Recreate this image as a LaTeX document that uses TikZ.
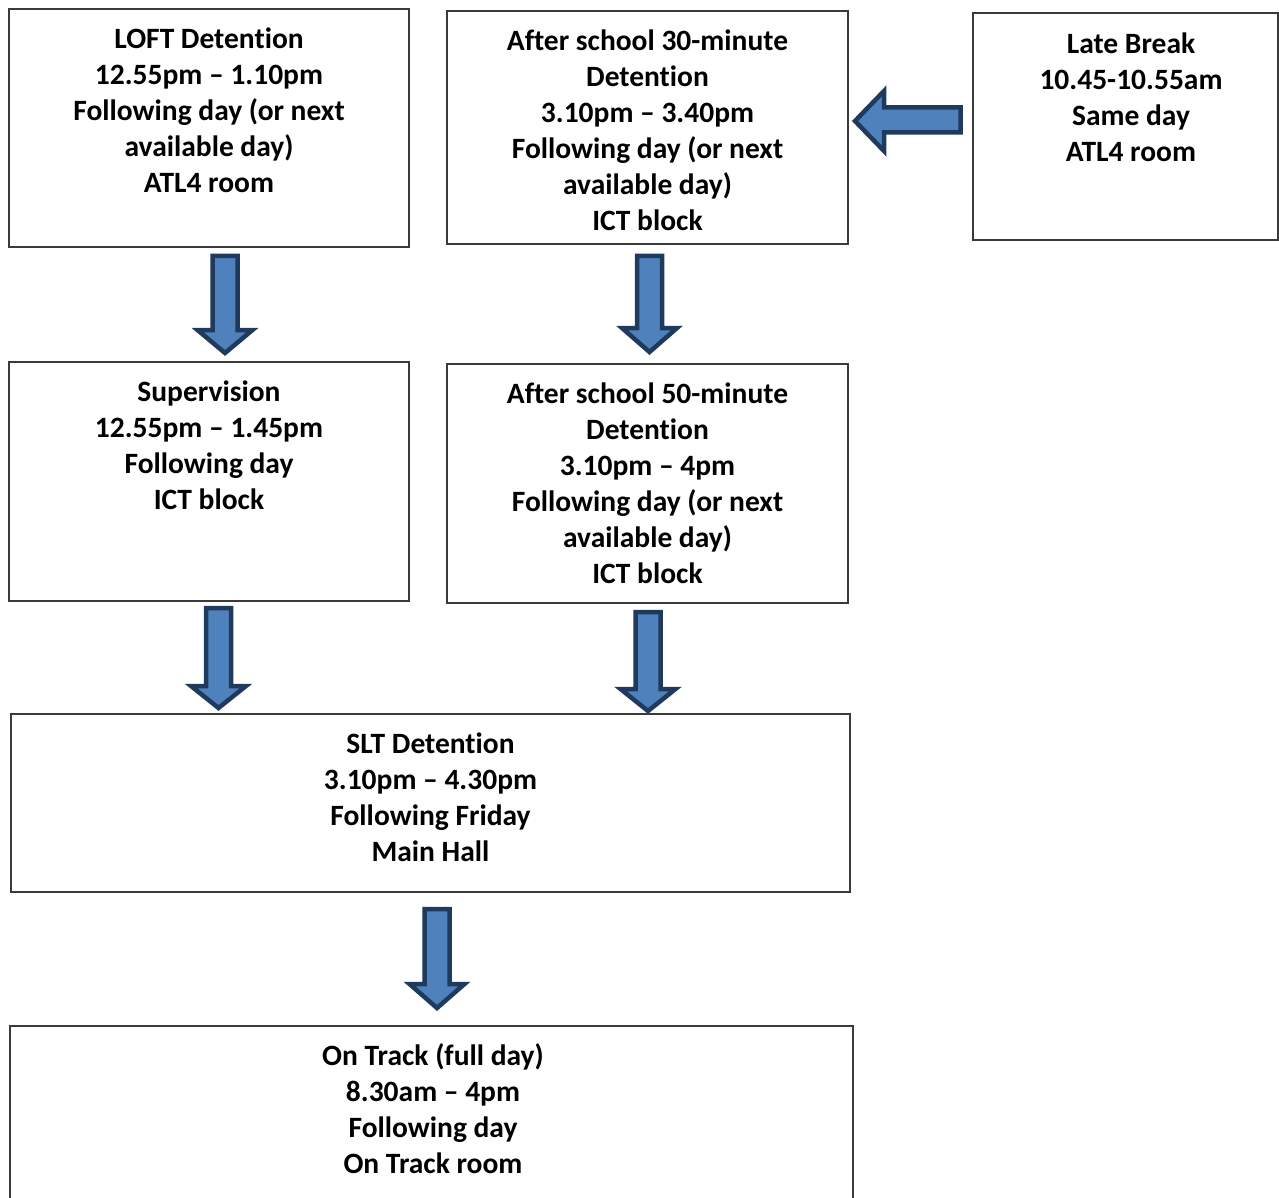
\documentclass[tikz,border=0pt]{standalone}
\usepackage{fontspec}
\setmainfont[Ligatures=NoCommon]{Carlito}
\usetikzlibrary{calc}
\definecolor{arrowfill}{HTML}{4F81BD}
\definecolor{arrowline}{HTML}{1F3A5C}
\definecolor{boxline}{HTML}{3A3A3A}
\tikzset{
  box/.style={draw=boxline, line width=1.3pt, fill=white, inner sep=0pt},
  boxtext/.style={anchor=north, inner sep=0pt, align=center,
    font=\bfseries\fontsize{29.5}{36}\selectfont, text=black},
  blockarrow/.style={fill=arrowfill, draw=arrowline, line width=4.5pt, line join=miter, miter limit=10},
}
% vertical block arrow: centre x, shaft top, head base, tip
\newcommand\blockdown[4]{%
  \path[blockarrow] (#1-12.5,#2) -- (#1+12.5,#2) -- (#1+12.5,#3) -- (#1+27.5,#3)
    -- (#1,#4) -- (#1-27.5,#3) -- (#1-12.5,#3) -- cycle;}
\begin{document}
\begin{tikzpicture}[x=1pt,y=-1pt]
\useasboundingbox (0,0) rectangle (1279,1198);
\clip (0,0) rectangle (1279,1198);
% boxes
\node[box, minimum width=400pt, minimum height=238pt] (loft) at (209,128) {};
\node[box, minimum width=401pt, minimum height=233pt] (thirty) at (647.5,127.5) {};
\node[box, minimum width=305pt, minimum height=227pt] (late) at (1125.5,126.5) {};
\node[box, minimum width=400pt, minimum height=239pt] (sup) at (209,481.5) {};
\node[box, minimum width=401pt, minimum height=239pt] (fifty) at (647.5,483.5) {};
\node[box, minimum width=839pt, minimum height=178pt] (slt) at (430.5,803) {};
\node[box, minimum width=843pt, minimum height=200pt] (track) at (431.5,1126) {};
% texts
\node[boxtext] (loftT) at ($(loft.north)+(0,14.8)$) {\strut LOFT Detention\\12.55pm – 1.10pm\\Following day (or next\\available day)\\ATL4 room};
\node[boxtext] (thirtyT) at ($(thirty.north)+(0,14.8)$) {\strut After school 30-minute\\Detention\\3.10pm – 3.40pm\\Following day (or next\\available day)\\ICT block};
\node[boxtext] (lateT) at (1131,27.8) {\strut Late Break\\10.45-10.55am\\Same day\\ATL4 room};
\node[boxtext] (supT) at ($(sup.north)+(0,14.8)$) {\strut Supervision\\12.55pm – 1.45pm\\Following day\\ICT block};
\node[boxtext] (fiftyT) at ($(fifty.north)+(0,14.8)$) {\strut After school 50-minute\\Detention\\3.10pm – 4pm\\Following day (or next\\available day)\\ICT block};
\node[boxtext] (sltT) at ($(slt.north)+(0,14.8)$) {\strut SLT Detention\\3.10pm – 4.30pm\\Following Friday\\Main Hall};
\node[boxtext] (trackT) at ($(track.north)+(1.5,14.8)$) {\strut On Track (full day)\\8.30am – 4pm\\Following day\\On Track room};
% arrows
\blockdown{225}{256}{330}{353}
\blockdown{649.5}{256}{328}{352}
\blockdown{218.5}{608}{686}{708}
\blockdown{648}{612}{689}{711}
\blockdown{437}{909}{984}{1008}
\path[blockarrow] (960.5,107.5) -- (960.5,132.5) -- (884,132.5) -- (884,151)
  -- (855,121) -- (884,91) -- (884,107.5) -- cycle;
\end{tikzpicture}
\end{document}
